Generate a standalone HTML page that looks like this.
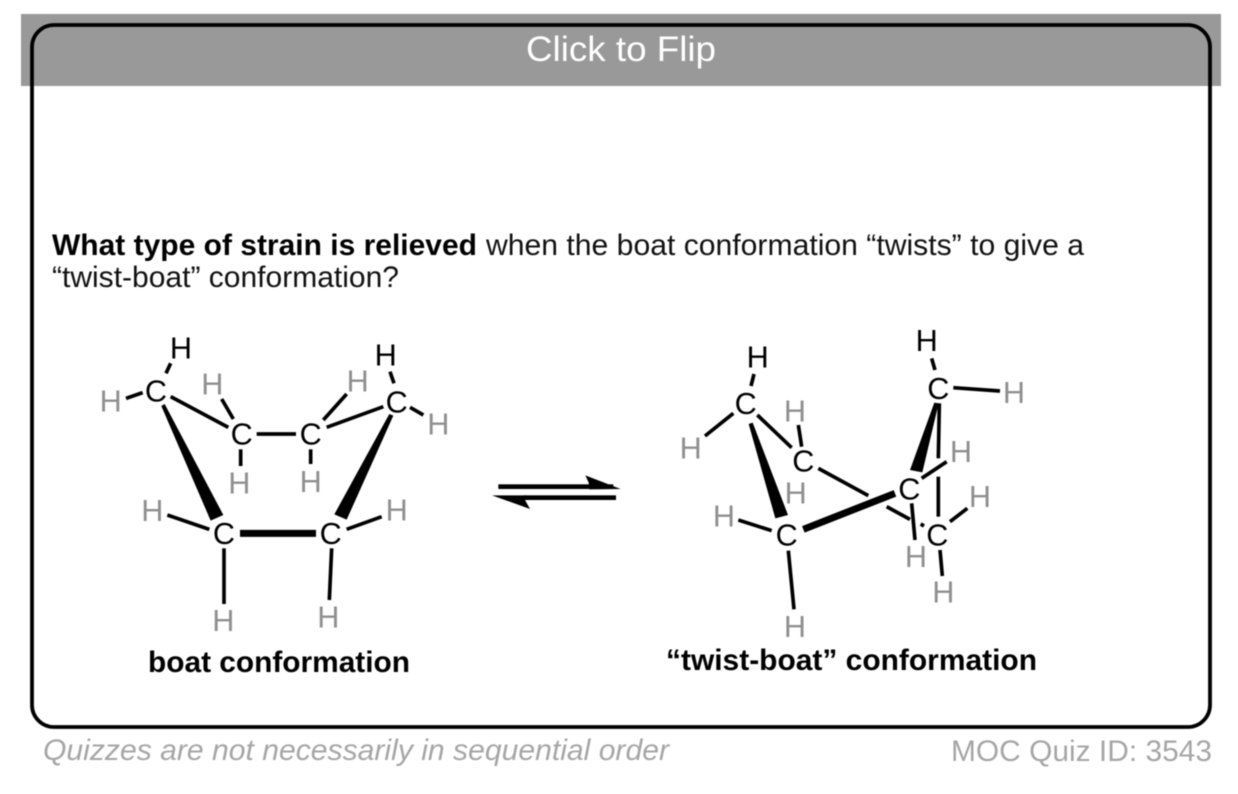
<!DOCTYPE html>
<html><head><meta charset="utf-8"><style>
html,body{margin:0;padding:0;background:#fff;width:1238px;height:794px;overflow:hidden}
svg{display:block;filter:blur(.45px)}
text{font-family:"Liberation Sans",sans-serif}
.m text{font-size:92px;text-anchor:middle}
.k{fill:#000}.g{fill:#8f8f8f}
.m line{stroke:#000;stroke-width:11;stroke-linecap:butt}
.m polygon{fill:#000}
</style></head><body>
<svg width="1238" height="794" viewBox="0 0 1238 794" xmlns="http://www.w3.org/2000/svg">
<rect width="1238" height="794" fill="#fff"/>
<rect x="21" y="14" width="1200" height="72" fill="#999"/>
<rect x="32" y="25" width="1178" height="702" rx="22" ry="22" fill="none" stroke="#000" stroke-width="3.8"/>
<text x="526" y="61" font-size="35" fill="#fff" textLength="190" lengthAdjust="spacingAndGlyphs">Click to Flip</text>

<text x="52" y="255" font-size="30" font-weight="700" fill="#000" textLength="425" lengthAdjust="spacingAndGlyphs">What type of strain is relieved</text>
<text x="486" y="255" font-size="30" fill="#111" textLength="598" lengthAdjust="spacingAndGlyphs">when the boat conformation “twists” to give a</text>
<text x="52" y="287" font-size="30" fill="#111" textLength="347" lengthAdjust="spacingAndGlyphs">“twist-boat” conformation?</text>

<g class="m" transform="translate(80 320) scale(.33333)">
<line x1="258" y1="160" x2="272" y2="130"/><line x1="138" y1="235" x2="188" y2="218"/>
<line x1="272" y1="230" x2="445" y2="322"/><line x1="425" y1="237" x2="460" y2="297"/>
<line x1="530" y1="342" x2="648" y2="342"/><line x1="800" y1="222" x2="730" y2="300"/>
<line x1="740" y1="322" x2="910" y2="260"/><line x1="930" y1="155" x2="942" y2="190"/>
<line x1="990" y1="262" x2="1030" y2="285"/><line x1="482" y1="388" x2="482" y2="438"/>
<line x1="692" y1="388" x2="692" y2="432"/><line x1="262" y1="585" x2="388" y2="628"/>
<line x1="800" y1="628" x2="905" y2="590"/><line x1="432" y1="685" x2="432" y2="852"/>
<line x1="755" y1="685" x2="748" y2="840"/>
<line x1="480" y1="640" x2="708" y2="640" style="stroke-width:21"/>
<polygon points="244,258 254,252 430,585 392,602"/><polygon points="928,282 940,287 800,599 763,583"/>
<g class="k">
<text x="303" y="116">H</text><text x="917" y="136">H</text>
<text x="228" y="244">C</text><text x="485" y="374">C</text><text x="692" y="374">C</text><text x="950" y="277">C</text><text x="432" y="672">C</text><text x="752" y="672">C</text>
</g>
<g class="g">
<text x="92" y="274">H</text><text x="397" y="224">H</text><text x="833" y="214">H</text><text x="1075" y="343">H</text><text x="478" y="521">H</text><text x="692" y="516">H</text><text x="217" y="603">H</text><text x="950" y="601">H</text><text x="430" y="933">H</text><text x="745" y="923">H</text>
</g>
</g>

<g class="m" transform="translate(650 320) scale(.33333)">
<line x1="303" y1="198" x2="312" y2="162"/><line x1="250" y1="280" x2="165" y2="348"/>
<line x1="322" y1="285" x2="425" y2="383"/><line x1="455" y1="380" x2="445" y2="315"/>
<line x1="910" y1="203" x2="1050" y2="213"/><line x1="855" y1="150" x2="845" y2="115"/>
<line x1="505" y1="445" x2="655" y2="527"/><line x1="710" y1="560" x2="780" y2="598"/>
<line x1="868" y1="250" x2="865" y2="415"/><line x1="865" y1="470" x2="865" y2="590"/>
<line x1="815" y1="475" x2="890" y2="425"/><line x1="785" y1="550" x2="795" y2="660"/>
<line x1="812" y1="612" x2="822" y2="618"/><line x1="900" y1="605" x2="952" y2="565"/>
<line x1="870" y1="690" x2="877" y2="768"/><line x1="265" y1="600" x2="365" y2="632"/>
<line x1="415" y1="692" x2="432" y2="868"/>
<line x1="460" y1="628" x2="735" y2="520" style="stroke-width:21"/>
<polygon points="296,312 308,308 414,585 376,595"/><polygon points="853,248 866,250 817,457 780,450"/>
<g class="k">
<text x="323" y="143">H</text><text x="830" y="93">H</text>
<text x="287" y="282">C</text><text x="460" y="454">C</text><text x="865" y="237">C</text><text x="778" y="539">C</text><text x="410" y="677">C</text><text x="862" y="677">C</text>
</g>
<g class="g">
<text x="122" y="416">H</text><text x="435" y="304">H</text><text x="1092" y="249">H</text><text x="933" y="426">H</text><text x="437" y="551">H</text><text x="990" y="561">H</text><text x="222" y="619">H</text><text x="798" y="741">H</text><text x="880" y="848">H</text><text x="435" y="951">H</text>
</g>
</g>

<g transform="translate(480 460) scale(.33333)" fill="#000">
<rect x="55" y="73" width="345" height="14"/>
<polygon points="316,46 422,87 328,88 326,68"/>
<rect x="130" y="106" width="278" height="14"/>
<polygon points="36,106 150,147 135,120 138,106"/>
</g>

<text x="148" y="672" font-size="30" font-weight="700" fill="#000" textLength="262" lengthAdjust="spacingAndGlyphs">boat conformation</text>
<text x="666" y="670" font-size="30" font-weight="700" fill="#000" textLength="371" lengthAdjust="spacingAndGlyphs">“twist-boat” conformation</text>
<text x="43" y="760" font-size="30" font-style="italic" fill="#a6a6a6" textLength="626" lengthAdjust="spacingAndGlyphs">Quizzes are not necessarily in sequential order</text>
<text x="951" y="761" font-size="30" fill="#a6a6a6" textLength="261" lengthAdjust="spacingAndGlyphs">MOC Quiz ID: 3543</text>
</svg>
</body></html>
